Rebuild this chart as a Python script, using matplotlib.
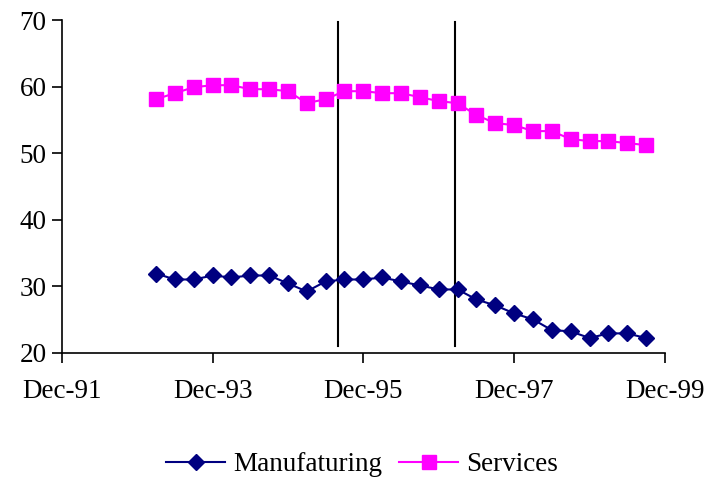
import matplotlib
matplotlib.use("Agg")
import matplotlib.pyplot as plt
import pandas as pd

plt.rcParams['font.family'] = ['Liberation Serif', 'DejaVu Serif']

# quarterly observations, Mar-93 .. Sep-99
dates = pd.date_range("1993-03-31", "1999-09-30", freq="QE")

manufacturing = [31.9, 31.0, 31.0, 31.6, 31.3, 31.6, 31.6, 30.4, 29.2, 30.7,
                 31.0, 31.0, 31.3, 30.7, 30.1, 29.5, 29.5, 28.0, 27.1, 25.9,
                 25.0, 23.4, 23.2, 22.2, 22.9, 22.9, 22.2]
services = [58.1, 59.0, 59.9, 60.2, 60.2, 59.6, 59.6, 59.3, 57.5, 58.1,
            59.3, 59.3, 59.0, 59.0, 58.4, 57.8, 57.5, 55.7, 54.5, 54.2,
            53.3, 53.3, 52.1, 51.8, 51.8, 51.5, 51.2]

event_dates = [pd.Timestamp("1995-08-31"), pd.Timestamp("1997-03-20")]
tick_dates = pd.date_range("1991-12-31", "1999-12-31", freq="24ME")
tick_labels = ["Dec-91", "Dec-93", "Dec-95", "Dec-97", "Dec-99"]

fig = plt.figure(figsize=(7.1, 4.82), dpi=100)
ax = fig.add_axes([0.0873, 0.2683, 0.8493, 0.6902])

ax.plot(dates, manufacturing, color='#000080', marker='D', markersize=8.5,
        linewidth=1.5, label='Manufaturing', zorder=3)
ax.plot(dates, services, color='#FF00FF', marker='s', markersize=9.5,
        linewidth=1.5, label='Services', zorder=3)

for d in event_dates:
    ax.axvline(d, ymin=0.02, ymax=0.995, color='black', linewidth=1.5, zorder=2)

ax.set_xlim(tick_dates[0], tick_dates[-1])
ax.set_ylim(20, 70)
ax.set_xticks(tick_dates)
ax.set_xticklabels(tick_labels)
ax.set_yticks([20, 30, 40, 50, 60, 70])

for s in ['top', 'right']:
    ax.spines[s].set_visible(False)
for s in ['left', 'bottom']:
    ax.spines[s].set_linewidth(1.2)
ax.tick_params(axis='both', direction='out', length=7, width=1.2, labelsize=19.5)
ax.tick_params(axis='x', pad=12)
ax.tick_params(axis='y', pad=4)

fig.legend(loc='center', bbox_to_anchor=(0.51, 0.036), ncol=2, frameon=False,
           fontsize=19.5, handlelength=2.2, columnspacing=0.6, handletextpad=0.3)

plt.savefig("out.png", dpi=100)
